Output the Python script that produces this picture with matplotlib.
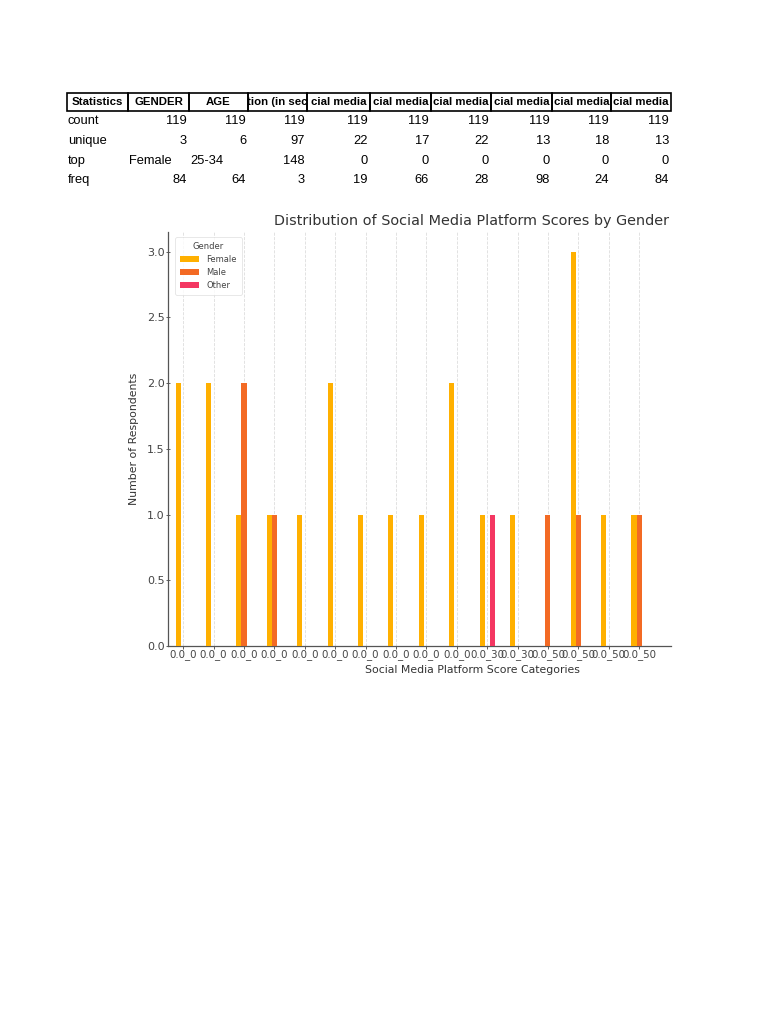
import numpy as np
import matplotlib
matplotlib.use("Agg")
import matplotlib.pyplot as plt

# --- table data (describe() output shown above the chart, headers cut by the cells) ---
header = ["Statistics", "GENDER", "AGE", "tion (in sec", "cial media", "cial media",
          "cial media", "cial media", "cial media", "cial media"]
row_names = ["count", "unique", "top", "freq"]
count_row = ["119"] * 9
unique_row = ["3", "6", "97", "22", "17", "22", "13", "18", "13"]
top_row = ["Female", "25-34", "148", "0", "0", "0", "0", "0", "0"]
freq_row = ["84", "64", "3", "19", "66", "28", "98", "24", "84"]
table_rows = [count_row, unique_row, top_row, freq_row]

# --- chart data ---
categories = ["0.0_0"] * 10 + ["0.0_30", "0.0_30", "0.0_50", "0.0_50", "0.0_50", "0.0_50"]
female = [2, 2, 1, 1, 1, 2, 1, 1, 1, 2, 1, 1, 0, 3, 1, 1]
male   = [0, 0, 2, 1, 0, 0, 0, 0, 0, 0, 0, 0, 1, 1, 0, 1]
other  = [0, 0, 0, 0, 0, 0, 0, 0, 0, 0, 1, 0, 0, 0, 0, 0]
series = {"Female": ("#FFB000", female), "Male": ("#F36A24", male), "Other": ("#F43762", other)}

W, H = 768, 1024
fig = plt.figure(figsize=(W / 100, H / 100), dpi=100)

# ---------- table ----------
col_edges = [67, 128, 189, 248, 307, 370, 431, 491, 552, 611, 671]
tfont = ["Liberation Sans Narrow", "Liberation Sans", "DejaVu Sans"]
hy0, hy1 = 93, 111
def fx(x): return x / W
def fy(y): return 1 - y / H

for x0, x1, txt in zip(col_edges[:-1], col_edges[1:], header):
    fig.add_artist(plt.Rectangle((fx(x0), fy(hy1)), fx(x1) - fx(x0), fy(hy0) - fy(hy1),
                                 fill=False, lw=1.2, ec="black", transform=fig.transFigure))
    fig.text(fx((x0 + x1) / 2), fy((hy0 + hy1) / 2), txt, ha="center", va="center",
             fontsize=8.2, fontweight="bold", family=tfont)

row_y = [121, 141, 161, 180]
for name, vals, y in zip(row_names, table_rows, row_y):
    fig.text(fx(68), fy(y), name, ha="left", va="center", fontsize=9.3, family=tfont)
    for j, v in enumerate(vals):
        x0, x1 = col_edges[j + 1], col_edges[j + 2]
        if v.isdigit():
            fig.text(fx(x1 - 2), fy(y), v, ha="right", va="center", fontsize=9.3, family=tfont)
        else:
            fig.text(fx(x0 + 1), fy(y), v, ha="left", va="center", fontsize=9.3, family=tfont)

# ---------- chart ----------
ax_l, ax_r, ax_t, ax_b = 168, 671, 232, 646
ax = fig.add_axes([ax_l / W, 1 - ax_b / H, (ax_r - ax_l) / W, (ax_b - ax_t) / H])

x = np.arange(len(categories))
bw = 0.5 / 3
for i, (name, (color, vals)) in enumerate(series.items()):
    ax.bar(x + (i - 1) * bw, vals, width=bw, color=color, label=name, zorder=3)

ax.set_xlim(-0.5, 16.05)
ax.set_ylim(0, 3.15)
ax.set_xticks(x)
ax.set_xticklabels(categories, rotation=0)
ax.set_yticks([0, 0.5, 1.0, 1.5, 2.0, 2.5, 3.0])
ax.tick_params(axis="x", labelsize=7.4, colors="#444444", length=2.5, width=0.6, pad=0)
ax.tick_params(axis="y", labelsize=8, colors="#444444", length=3, width=0.6, pad=1,
               direction="inout")
ax.grid(axis="x", color="#dddddd", linestyle="--", linewidth=0.6, zorder=0)
for s in ["top", "right"]:
    ax.spines[s].set_visible(False)
for s in ["left", "bottom"]:
    ax.spines[s].set_color("#555555")
    ax.spines[s].set_linewidth(0.9)

ax.set_ylabel("Number of Respondents", fontsize=7.8, color="#333333")
ax.set_xlabel("Social Media Platform Score Categories", fontsize=7.8, color="#333333")
ax.xaxis.set_label_coords((472 - ax_l) / (ax_r - ax_l), -0.047)
ax.yaxis.set_label_coords((139 - ax_l) / (ax_r - ax_l), 0.5)

fig.text(472 / W, fy(221), "Distribution of Social Media Platform Scores by Gender",
         ha="center", va="center", fontsize=10.4, color="#333333")

leg = ax.legend(title="Gender", loc="upper left", fontsize=6, title_fontsize=6,
                frameon=True, bbox_to_anchor=(0.006, 0.997), handlelength=2.3,
                borderpad=0.6, labelspacing=0.45)
leg.get_frame().set_edgecolor("#dddddd")
leg.get_frame().set_linewidth(0.6)
for t in leg.get_texts():
    t.set_color("#444444")
leg.get_title().set_color("#444444")

fig.savefig("out.png", dpi=100)
